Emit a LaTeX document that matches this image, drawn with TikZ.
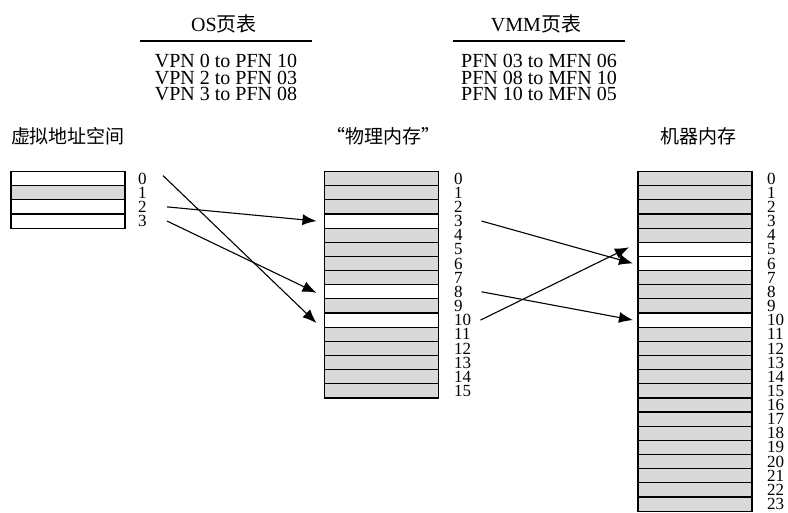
\documentclass[tikz,border=0pt]{standalone}
\usepackage{fontspec}
\setmainfont{Liberation Serif}
\newfontfamily\cjk{Noto Sans CJK SC}
\usetikzlibrary{arrows.meta}
\definecolor{zellgrau}{RGB}{217,217,217}

\begin{document}
\begin{tikzpicture}[x=1pt, y=-1pt, >={Latex[length=14pt,width=11pt]}, font=\fontsize{20}{16.5}\selectfont,
		zelle/.style={draw, line width=1.2pt, fill=zellgrau, minimum width=114pt, minimum height=14.15pt, inner sep=0pt, outer sep=0pt},
		frei/.style={zelle, fill=white},
		nummer/.style={anchor=west, inner sep=0pt, font=\fontsize{17}{17}\selectfont},
		kopf/.style={font=\cjk\fontsize{19}{19}\selectfont},
		pfeil/.style={->, line width=1.1pt}]
				\useasboundingbox (0,0) rectangle (788,512);
				% Seitentabellen
				\node (ostitel) at (224,24) {OS{\cjk 页表}};
				\draw[line width=1.2pt] (140,41) -- (312,41);
				\node[align=center] (ostab) at (226,77.5) {VPN 0 to PFN 10\\VPN 2 to PFN 03\\VPN 3 to PFN 08};
				\node (vmmtitel) at (536,24) {VMM{\cjk 页表}};
				\draw[line width=1.2pt] (453,41) -- (625,41);
				\node[align=center] (vmmtab) at (539,77.5) {PFN 03 to MFN 06\\PFN 08 to MFN 10\\PFN 10 to MFN 05};
				% Virtueller Adressraum
				\foreach \i in {1} \node[zelle] (v\i) at (68,{171.5+14.15*(\i+0.5)}) {};
				\foreach \i in {0,2,3} \node[frei] (v\i) at (68,{171.5+14.15*(\i+0.5)}) {};
				\foreach \i in {0,...,3} \node[nummer] (vn\i) at (138,{171.5+14.15*(\i+0.5)}) {\i};
				% Physischer Speicher
				\foreach \i in {0,1,2,4,5,6,7,9,11,12,...,15} \node[zelle] (p\i) at (381.5,{171.5+14.15*(\i+0.5)}) {};
				\foreach \i in {3,8,10} \node[frei] (p\i) at (381.5,{171.5+14.15*(\i+0.5)}) {};
				\foreach \i in {0,...,15} \node[nummer] (pn\i) at (454,{171.5+14.15*(\i+0.5)}) {\i};
				% Maschinenspeicher
				\foreach \i in {0,1,2,3,4,7,8,9,11,12,...,23} \node[zelle] (m\i) at (695,{171.5+14.15*(\i+0.5)}) {};
				\foreach \i in {5,6,10} \node[frei] (m\i) at (695,{171.5+14.15*(\i+0.5)}) {};
				\foreach \i in {0,...,23} \node[nummer] (mn\i) at (767,{171.5+14.15*(\i+0.5)}) {\i};
				% Beschriftung
				\node[kopf] (vtitel) at ([yshift=35pt]v0.north) {虚拟地址空间};
				\node[kopf] (ptitel) at ([yshift=35pt,xshift=2pt]p0.north) {“物理内存”};
				\node[kopf] (mtitel) at ([yshift=35pt,xshift=3pt]m0.north) {机器内存};
				% Pfeile OS
				\draw[pfeil] ([xshift=38pt,yshift=3pt]v0.east) -- ([xshift=-8pt,yshift=-3pt]p10.west);
				\draw[pfeil] ([xshift=42pt]v2.east) -- ([xshift=-8pt]p3.west);
				\draw[pfeil] ([xshift=42pt]v3.east) -- ([xshift=-8pt,yshift=-1pt]p8.west);
				% Pfeile VMM
				\draw[pfeil] ([xshift=43pt]p3.east) -- ([xshift=-5pt]m6.west);
				\draw[pfeil] ([xshift=43pt]p8.east) -- ([xshift=-5pt]m10.west);
				\draw[pfeil] ([xshift=42pt]p10.east) -- ([xshift=-9pt,yshift=2pt]m5.west);
		\end{tikzpicture}
\end{document}
